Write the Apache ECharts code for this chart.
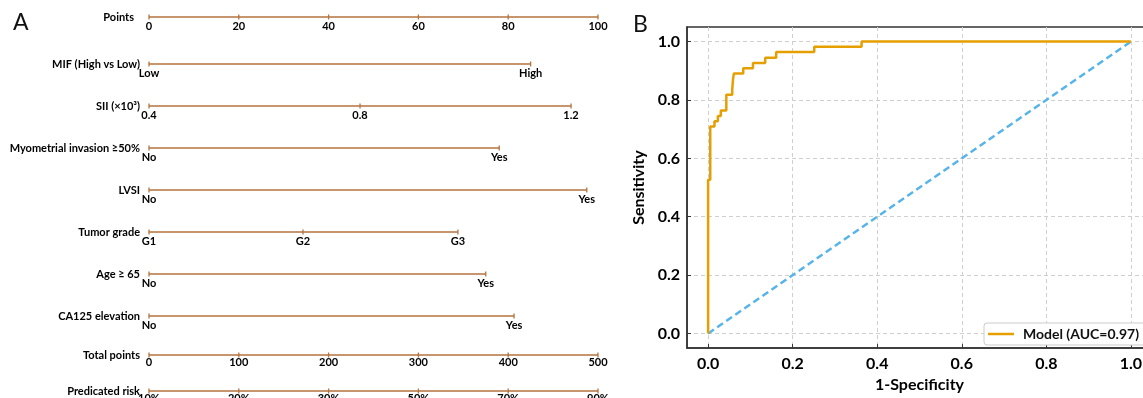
<!DOCTYPE html>
<html>
<head>
<meta charset="utf-8">
<script src="https://cdn.jsdelivr.net/npm/echarts@6/dist/echarts.min.js"></script>
<style>
  html, body { margin: 0; padding: 0; overflow: hidden; background: #fff; }
  #chart { width: 1160px; height: 398px; }
</style>
</head>
<body>
<div id="chart"></div>
<script>
// Nomogram rows (panel A)
const rowNames = ['Points', 'MIF (High vs Low)', 'SII (×10³)', 'Myometrial invasion ≥50%', 'LVSI',
    'Tumor grade', 'Age ≥ 65', 'CA125 elevation', 'Total points', 'Predicated risk'];

const pointsLabels = ['0', '20', '40', '60', '80', '100'];
const pointsValues = [0, 20, 40, 60, 80, 100];
const mifLabels = ['Low', 'High'];
const mifPoints = [0, 85];
const siiLabels = ['0.4', '0.8', '1.2'];
const siiPoints = [0, 47, 94];
const myoLabels = ['No', 'Yes'];
const myoPoints = [0, 78];
const lvsiLabels = ['No', 'Yes'];
const lvsiPoints = [0, 97.5];
const gradeLabels = ['G1', 'G2', 'G3'];
const gradePoints = [0, 34.3, 68.8];
const ageLabels = ['No', 'Yes'];
const agePoints = [0, 75];
const ca125Labels = ['No', 'Yes'];
const ca125Points = [0, 81.3];
const totalLabels = ['0', '100', '200', '300', '400', '500'];
const totalValues = [0, 100, 200, 300, 400, 500];
const riskLabels = ['10%', '20%', '30%', '50%', '70%', '90%'];
const riskTotals = [0, 100, 200, 300, 400, 500];

// ROC curve (panel B): 1-specificity / sensitivity corners
const rocFpr = [0, 0, 0.005, 0.005, 0.015, 0.015, 0.023, 0.023, 0.03, 0.03, 0.043, 0.043, 0.057, 0.057,
    0.059, 0.059, 0.061, 0.061, 0.083, 0.083, 0.106, 0.106, 0.135, 0.135, 0.161, 0.161, 0.251, 0.251,
    0.363, 0.363, 1];
const rocTpr = [0, 0.527, 0.527, 0.709, 0.709, 0.727, 0.727, 0.745, 0.745, 0.764, 0.764, 0.818, 0.818, 0.836,
    0.836, 0.873, 0.873, 0.891, 0.891, 0.909, 0.909, 0.927, 0.927, 0.945, 0.945, 0.964, 0.964, 0.982,
    0.982, 1, 1];
const diagX = [0, 1];
const diagY = [0, 1];
const rocTicks = [0, 0.2, 0.4, 0.6, 0.8, 1.0];
const modelName = 'Model (AUC=0.97)';

const rows = [
    { labels: pointsLabels, values: pointsValues, max: 100 },
    { labels: mifLabels, values: mifPoints, max: 100 },
    { labels: siiLabels, values: siiPoints, max: 100 },
    { labels: myoLabels, values: myoPoints, max: 100 },
    { labels: lvsiLabels, values: lvsiPoints, max: 100 },
    { labels: gradeLabels, values: gradePoints, max: 100 },
    { labels: ageLabels, values: agePoints, max: 100 },
    { labels: ca125Labels, values: ca125Points, max: 100 },
    { labels: totalLabels, values: totalValues, max: 500 },
    { labels: riskLabels, values: riskTotals, max: 500 }
];

const rowTop = [17, 64, 106, 148, 190, 232, 274, 316, 355, 391];
const brown = '#b5733f';
const font = 'Lato, "Open Sans", sans-serif';

const chart = echarts.init(document.getElementById('chart'));

const grids = [], xAxes = [], yAxes = [], series = [];

rows.forEach((row, i) => {
    grids.push({ left: 149, width: 449, top: rowTop[i] - 5, height: 10 });
    xAxes.push({ gridIndex: i, type: 'value', min: 0, max: row.max, show: false });
    yAxes.push({
        gridIndex: i, type: 'category', data: [rowNames[i]],
        axisLine: { show: false }, axisTick: { show: false },
        axisLabel: { margin: i === 0 ? 15 : 9, fontFamily: font, fontWeight: 'bold', fontSize: 11, color: '#000', padding: [0, 0, 1, 0] }
    });
    series.push({
        type: 'line', xAxisIndex: i, yAxisIndex: i,
        data: row.values.map(v => [v, 0]),
        lineStyle: { color: brown, width: 1.6 },
        itemStyle: { color: brown },
        symbol: 'rect', symbolSize: [1.3, 5],
        silent: true, animation: false,
        label: {
            show: true, position: 'bottom', distance: i >= 8 ? -1 : 1,
            formatter: p => row.labels[p.dataIndex],
            fontFamily: font, fontWeight: 'bold', fontSize: 11, color: '#000'
        }
    });
});

// Panel B
const gi = rows.length;
grids.push({ left: 687, top: 27, width: 465, height: 325, show: true, borderColor: '#333', borderWidth: 1.5 });
xAxes.push({
    gridIndex: gi, type: 'value', min: -0.05, max: 1.05,
    name: '1-Specificity', nameLocation: 'middle', nameGap: 26,
    nameTextStyle: { fontFamily: font, fontWeight: 'bold', fontSize: 16, color: '#000' },
    axisLine: { onZero: false, lineStyle: { color: '#333', width: 1.5 } },
    axisTick: { inside: true, length: 4, customValues: rocTicks, lineStyle: { color: '#333' } },
    axisLabel: { customValues: rocTicks, formatter: v => v.toFixed(1), margin: 8,
        fontFamily: font, fontWeight: 'bold', fontSize: 16, color: '#000' },
    splitLine: { show: true, lineStyle: { color: '#cfcfcf', type: [4, 3] } }
});
yAxes.push({
    gridIndex: gi, type: 'value', min: -0.05, max: 1.05,
    name: 'Sensitivity', nameLocation: 'middle', nameGap: 40,
    nameTextStyle: { fontFamily: font, fontWeight: 'bold', fontSize: 16, color: '#000' },
    axisLine: { show: true, onZero: false, lineStyle: { color: '#333', width: 1.5 } },
    axisTick: { show: true, inside: true, length: 4, customValues: rocTicks, lineStyle: { color: '#333' } },
    axisLabel: { customValues: rocTicks, formatter: v => v.toFixed(1), margin: 7,
        fontFamily: font, fontWeight: 'bold', fontSize: 16, color: '#000' },
    splitLine: { show: true, lineStyle: { color: '#cfcfcf', type: [4, 3] } }
});
series.push({
    name: 'Chance', type: 'line', xAxisIndex: gi, yAxisIndex: gi,
    data: diagX.map((x, k) => [x, diagY[k]]),
    symbol: 'none', animation: false,
    lineStyle: { color: '#56B4E9', width: 2.5, type: [7, 4] }
});
series.push({
    name: modelName, type: 'line', xAxisIndex: gi, yAxisIndex: gi,
    data: rocFpr.map((x, k) => [x, rocTpr[k]]),
    symbol: 'none', animation: false,
    itemStyle: { color: '#E69F00' },
    lineStyle: { color: '#E69F00', width: 2.5 }
});

const option = {
    backgroundColor: '#fff',
    animation: false,
    title: [
        { text: 'A', left: 8, top: 6, textStyle: { fontFamily: font, fontWeight: 'normal', fontSize: 23, color: '#111' } },
        { text: 'B', left: 628, top: 8, textStyle: { fontFamily: font, fontWeight: 'normal', fontSize: 23, color: '#111' } }
    ],
    legend: {
        data: [{ name: modelName, icon: 'rect' }], left: 984, top: 323,
        padding: [4, 8, 4, 4], itemWidth: 26, itemHeight: 2.5, itemGap: 10,
        borderColor: '#ccc', borderWidth: 1, borderRadius: 3, backgroundColor: '#fff',
        textStyle: { fontFamily: font, fontWeight: 'bold', fontSize: 14, color: '#111', padding: [0, 0, 0, 4] }
    },
    grid: grids,
    xAxis: xAxes,
    yAxis: yAxes,
    series: series
};

option && chart.setOption(option);
</script>
</body>
</html>
